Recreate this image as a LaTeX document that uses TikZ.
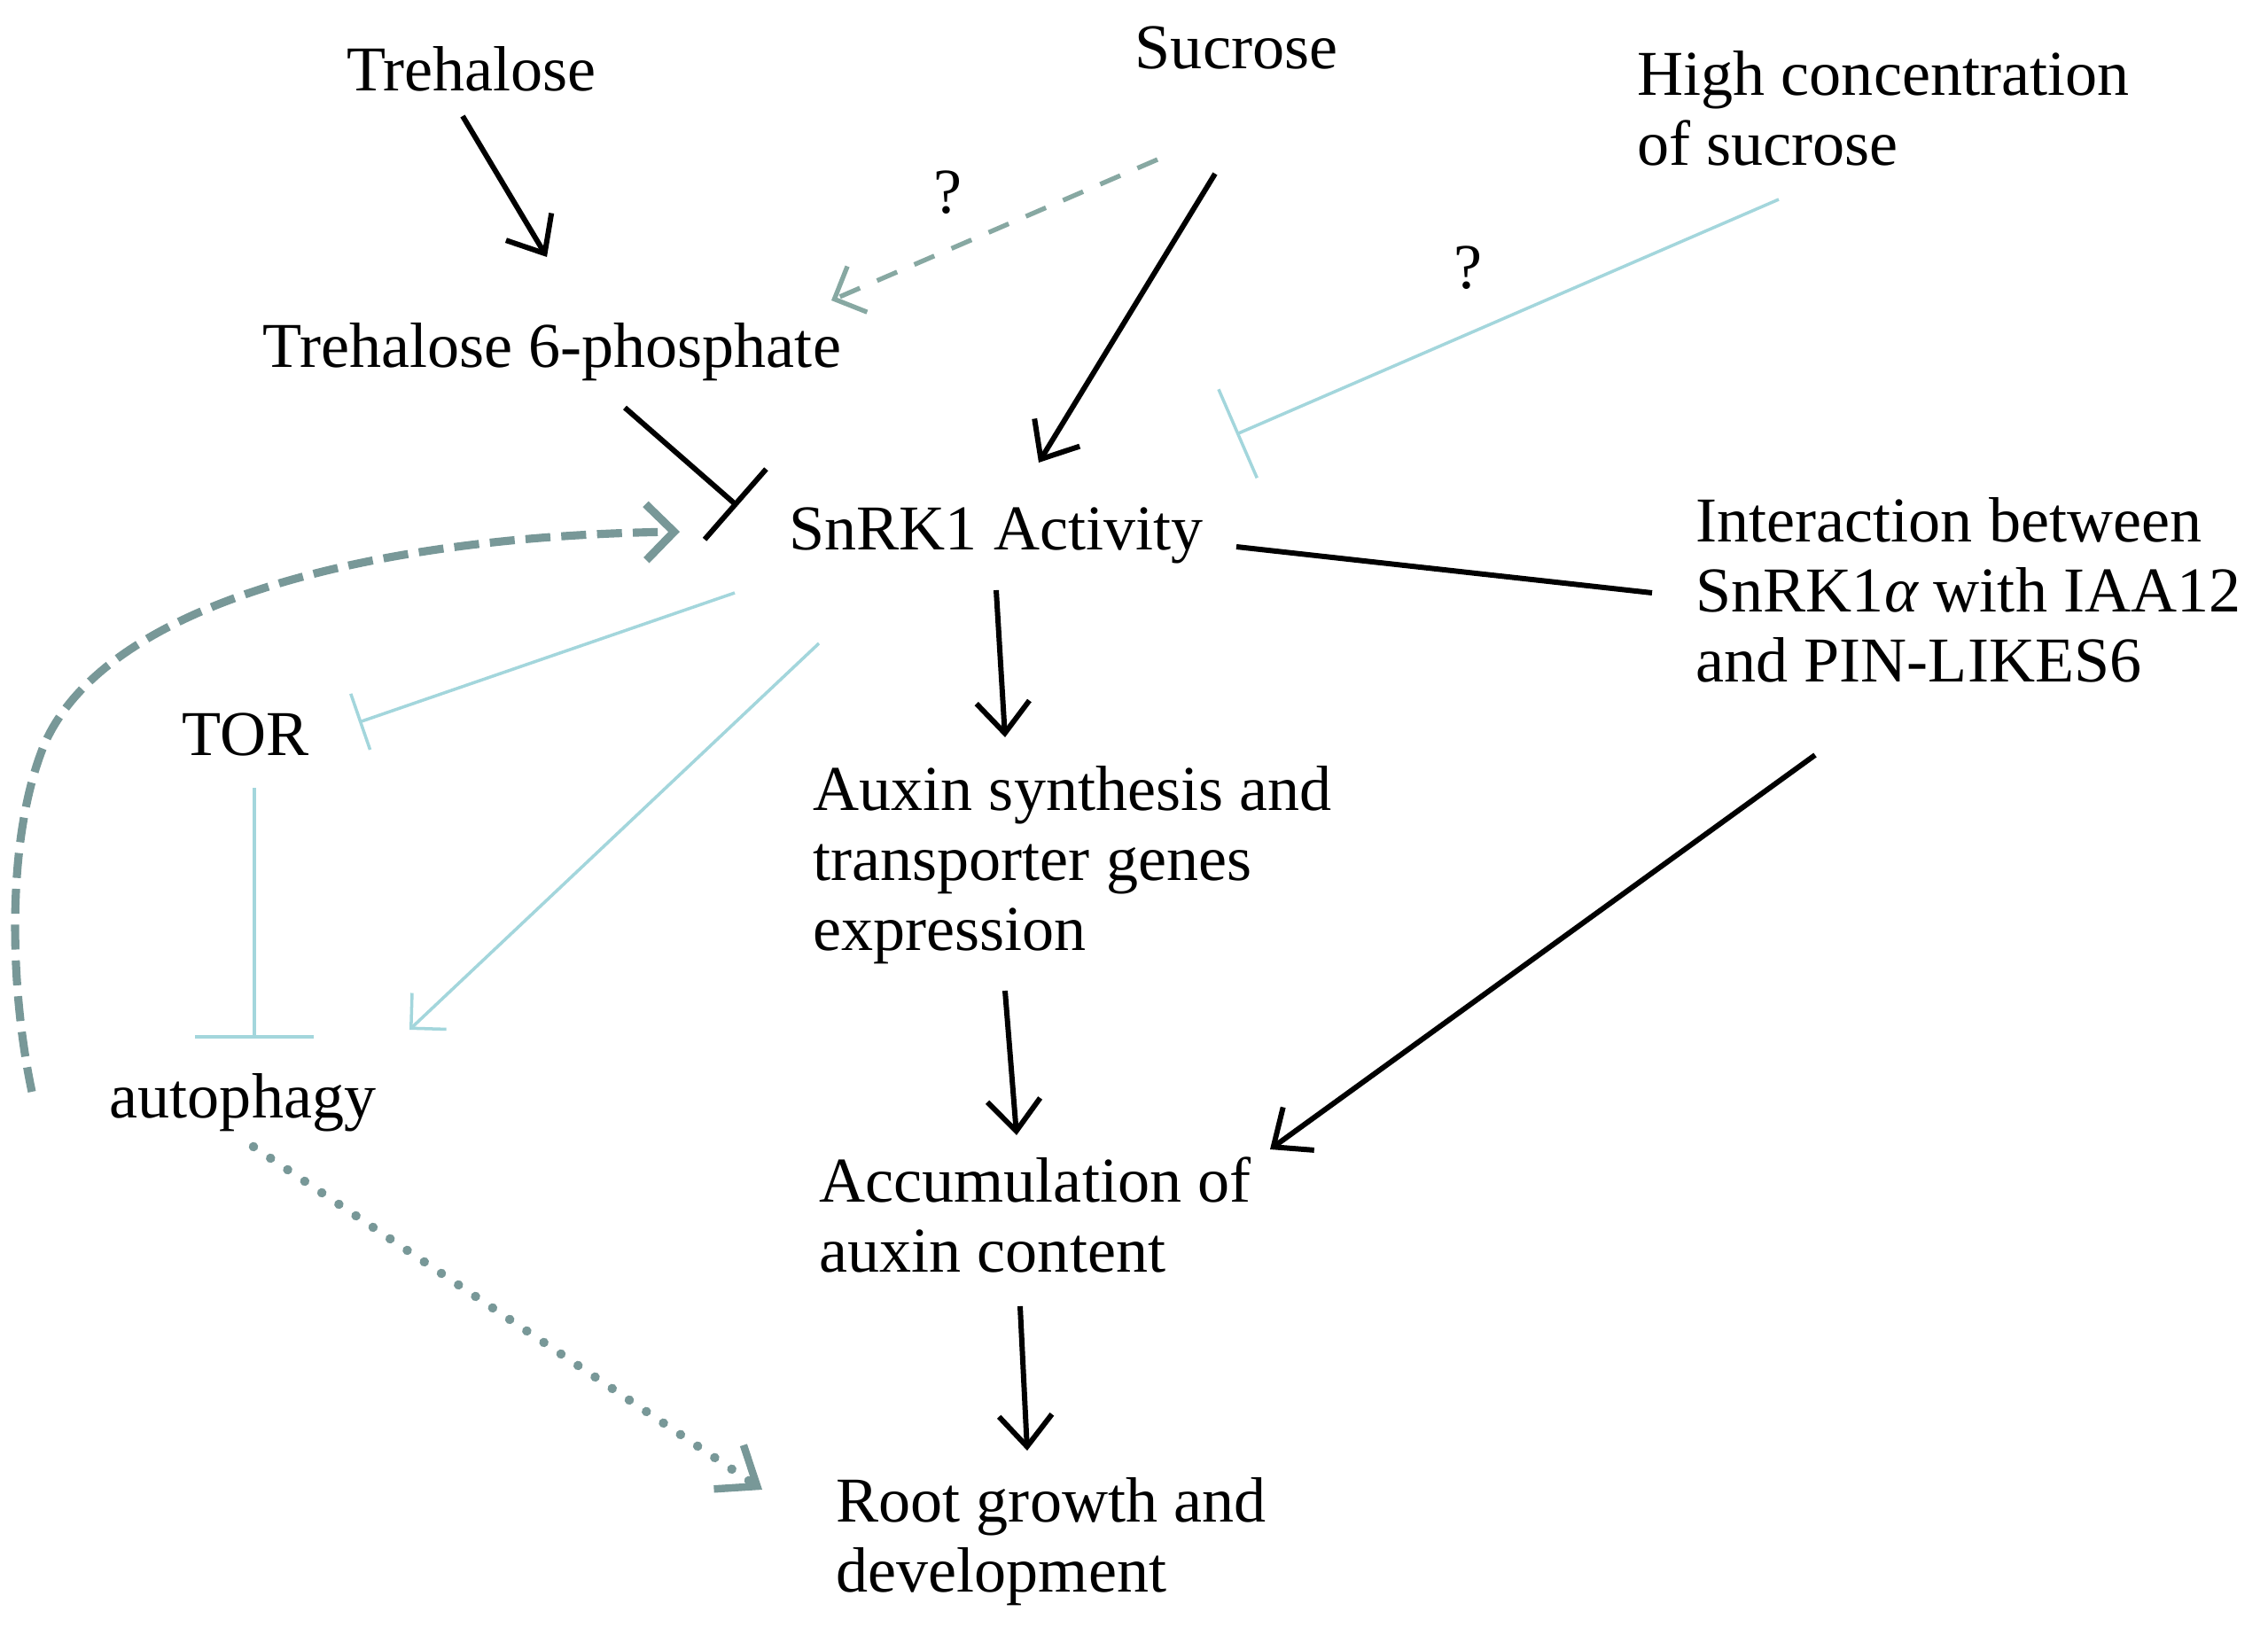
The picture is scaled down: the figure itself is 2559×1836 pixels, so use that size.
\documentclass[tikz,border=0pt]{standalone}
\usepackage{fontspec}
\setmainfont{Liberation Serif}
\usetikzlibrary{arrows.meta,calc}
\definecolor{cy}{RGB}{163,214,220}
\definecolor{gt}{RGB}{120,152,152}
\definecolor{gtb}{RGB}{135,168,162}
\begin{document}
\begin{tikzpicture}[x=0.01cm,y=-0.01cm,
  lbl/.style={inner sep=0pt, font=\fontsize{20.5pt}{22.5pt}\selectfont, align=left},
  blk/.style={line width=1.7pt, black},
  cyl/.style={line width=1.0pt, cy},
  act/.style={-{Straight Barb[length=10pt,width=17pt]}},
  cyact/.style={-{Straight Barb[length=8pt,width=16pt]}},
  inhb/.style={-{Bar[width=#1]}},
  gdash/.style={line width=2.6pt, gt, dash pattern=on 8pt off 3.5pt},
  gdash2/.style={line width=1.5pt, gtb, dash pattern=on 7pt off 6pt},
  gdot/.style={line width=3pt, gt, line cap=round, dash pattern=on 0.01pt off 6.6pt}
]
\fill[white] (0,0) rectangle (2559,1836);
\useasboundingbox (0,0) rectangle (2559,1836);

% nodes
\node[lbl] (tre) at (532,78) {Trehalose};
\node[lbl] (suc) at (1395,54) {Sucrose};
\node[lbl,anchor=west] (hc) at (1847,122) {High concentration\\of sucrose};
\node[lbl] (t6p) at (623,397) {Trehalose 6-phosphate};
\node[lbl] (snrk) at (1124,604) {SnRK1 Activity};
\node[lbl,anchor=west] (int) at (1913,666) {Interaction between\\SnRK1{\itshape α} with IAA12\\and PIN-LIKES6};
\node[lbl] (tor) at (277,829) {TOR};
\node[lbl] (aut) at (274,1244) {autophagy};
\node[lbl,anchor=west] (aux) at (917,976) {Auxin synthesis and\\transporter genes\\expression};
\node[lbl,anchor=west] (acc) at (924,1371) {Accumulation of\\auxin content};
\node[lbl,anchor=west] (root) at (943,1740) {Root growth and\\development};
\node[lbl] (q1) at (1069,217) {?};
\node[lbl] (q2) at (1656,302) {?};

% black connectors
\draw[blk,act] ([shift={(-10,53)}]tre.center) -- ([shift={(-6,-107)}]t6p.center);
\draw[blk,act] ([shift={(-24,142)}]suc.center) -- ([shift={(48,-82)}]snrk.center);
\draw[blk,inhb=30pt] ([shift={(82,63)}]t6p.center) -- ([shift={(-292,-33)}]snrk.center);
\draw[blk] ([shift={(271,13)}]snrk.center) -- ([shift={(-49,3)}]int.west);
\draw[blk,act] ([shift={(0,62)}]snrk.center) -- ([shift={(217,-144)}]aux.west);
\draw[blk,act] ([shift={(217,142)}]aux.west) -- ([shift={(223,-90)}]acc.west);
\draw[blk,act] ([shift={(227,103)}]acc.west) -- ([shift={(216,-103)}]root.west);
\draw[blk,act] ([shift={(135,186)}]int.west) -- ([shift={(509,-74)}]acc.west);

% light cyan connectors
\draw[cyl,inhb=31pt] ([shift={(160,103)}]hc.west) -- ([shift={(271,-114)}]snrk.center);
\draw[cyl,inhb=19pt] ([shift={(-295,65)}]snrk.center) -- ([shift={(128,-14)}]tor.center);
\draw[cyl,cyact] ([shift={(-200,122)}]snrk.center) -- ([shift={(188,-82)}]aut.center);
\draw[cyl,inhb=38pt] ([shift={(10,60)}]tor.center) -- ([shift={(13,-72)}]aut.center);

% grey dashed / dotted connectors
\draw[gdash2,-{Straight Barb[length=8pt,width=16pt]}] ([shift={(-89,126)}]suc.center) -- ([shift={(315,-58)}]t6p.center);
\draw[gdash,-{Straight Barb[length=9pt,width=18pt]}] ([shift={(-238,-12)}]aut.center)
   .. controls (12,1120) and (5,950) .. (50,840)
   .. controls (120,680) and (420,605) .. ([shift={(-357,-4)}]snrk.center);
\draw[gdot,-{Straight Barb[length=11pt,width=17pt,line width=2.4pt]}] ([shift={(12,50)}]aut.center) -- ([shift={(-83,-59)}]root.west);
\end{tikzpicture}
\end{document}
